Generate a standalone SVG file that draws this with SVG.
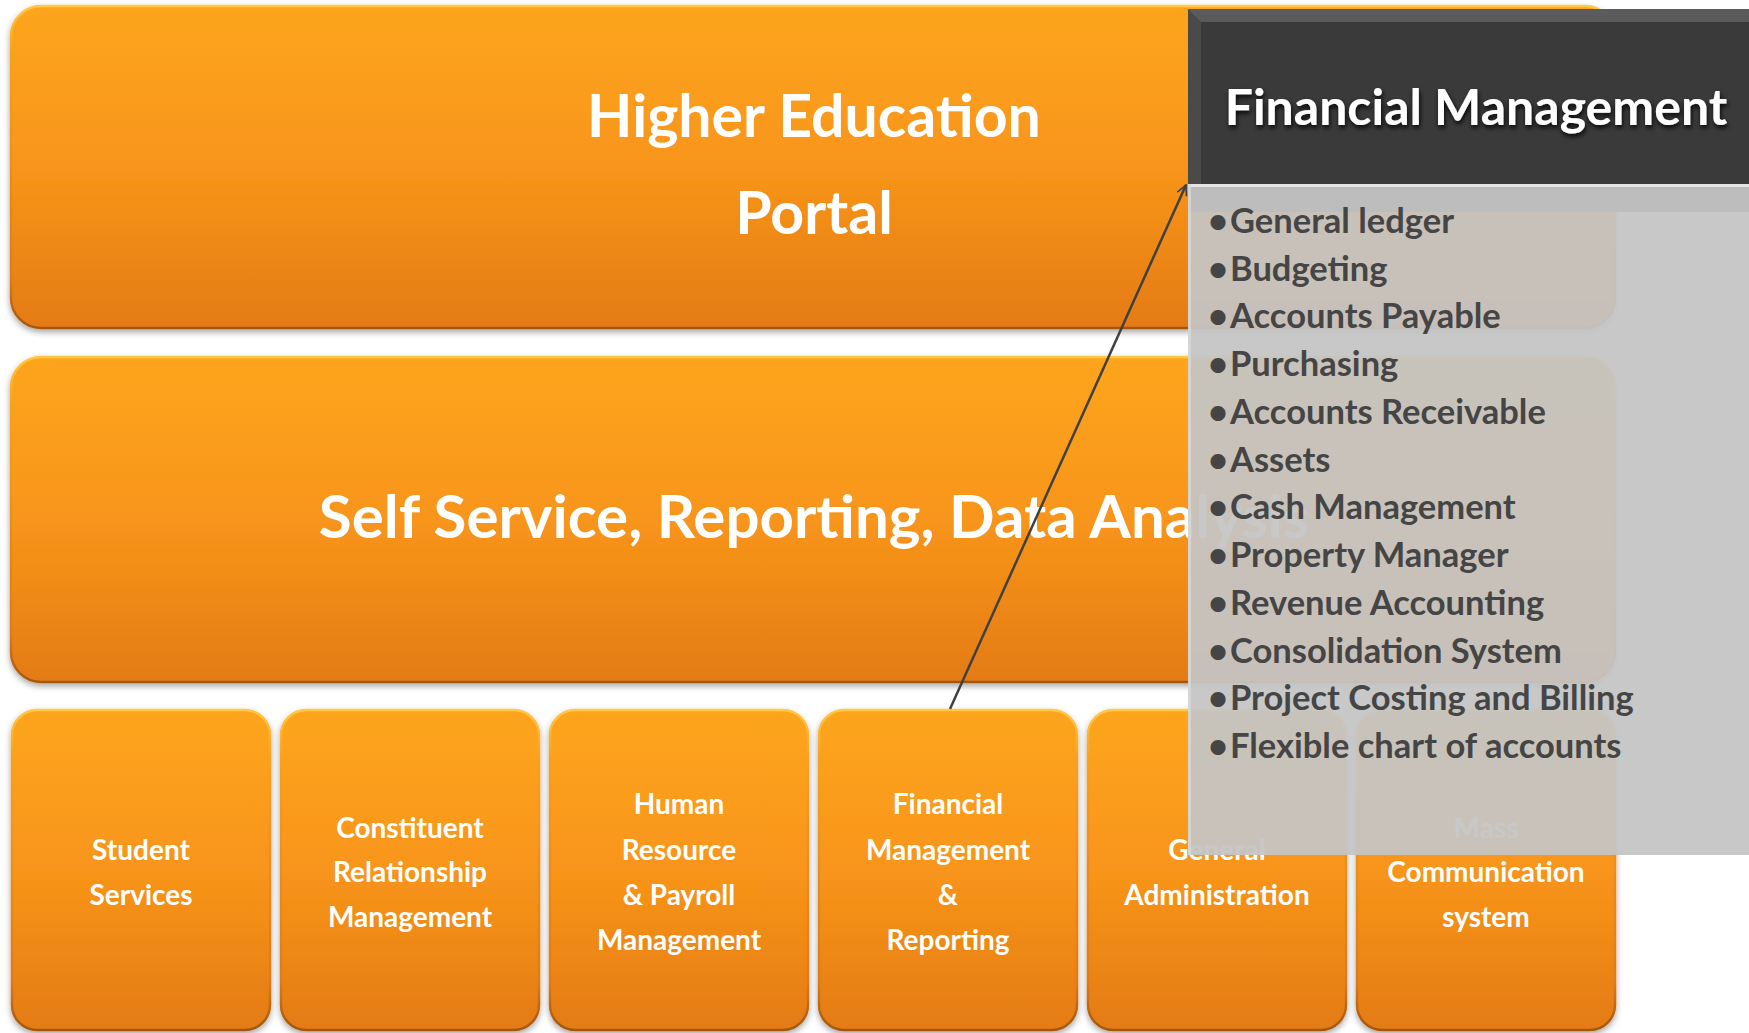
<svg xmlns="http://www.w3.org/2000/svg" width="1749" height="1033" viewBox="0 0 1749 1033">
<defs>
<linearGradient id="og" x1="0" y1="0" x2="0" y2="1">
<stop offset="0" stop-color="#fda51e"/>
<stop offset="0.5" stop-color="#f8951a"/>
<stop offset="1" stop-color="#e47b14"/>
</linearGradient>
<linearGradient id="os" x1="0" y1="0" x2="0" y2="1">
<stop offset="0" stop-color="#ffc845"/>
<stop offset="0.15" stop-color="#f9a020"/>
<stop offset="0.85" stop-color="#e07a14"/>
<stop offset="1" stop-color="#a4570e"/>
</linearGradient>
<linearGradient id="hb" x1="0" y1="0" x2="0" y2="1">
<stop offset="0" stop-color="#5c5c5c"/>
<stop offset="1" stop-color="#3c3c3c"/>
</linearGradient>
<filter id="sh" x="-5%" y="-5%" width="110%" height="115%">
<feDropShadow dx="0" dy="3" stdDeviation="3" flood-color="#000" flood-opacity="0.35"/>
</filter>
<filter id="glow" x="-5%" y="-30%" width="110%" height="160%">
<feDropShadow dx="1" dy="3" stdDeviation="2.5" flood-color="#000" flood-opacity="0.9"/>
</filter>
<marker id="arr" viewBox="0 0 12 12" refX="11" refY="6" markerWidth="12" markerHeight="12" markerUnits="userSpaceOnUse" orient="auto">
<path d="M1,1 L11,6 L1,11" fill="none" stroke="#404040" stroke-width="1.6"/>
</marker>
<style>
.box{fill:url(#og);stroke:url(#os);stroke-width:2.5;filter:url(#sh)}
.big{font-family:Lato,"Open Sans",sans-serif;font-weight:700;font-size:59px;fill:#fff;text-anchor:middle}
.sm{font-family:Lato,"Open Sans",sans-serif;font-weight:700;font-size:28px;fill:#fff;text-anchor:middle}
.li{font-family:Lato,"Open Sans",sans-serif;font-weight:700;font-size:34.5px;fill:#454545}
.ttl{font-family:Lato,"Open Sans",sans-serif;font-weight:700;font-size:50px;fill:#fff;text-anchor:middle;filter:url(#glow)}
.conn{stroke:#404040;stroke-width:2.5;fill:none}
</style>
</defs>
<rect width="1749" height="1033" fill="#fff"/>

<g id="portal">
<rect class="box" x="11" y="6" width="1604" height="322" rx="30"/>
<text class="big" x="814" y="137">Higher Education</text>
<text class="big" x="814" y="234">Portal</text>
</g>

<g id="selfservice">
<rect class="box" x="11" y="357" width="1604" height="325" rx="30"/>
<text class="big" x="814" y="538" style="font-size:60px">Self Service, Reporting, Data Analysis</text>
</g>

<g id="student">
<rect class="box" x="12" y="710" width="258" height="320" rx="25"/>
<text class="sm" x="141" y="860">Student</text>
<text class="sm" x="141" y="905">Services</text>
</g>

<g id="crm">
<rect class="box" x="281" y="710" width="258" height="320" rx="25"/>
<text class="sm" x="410" y="838">Constituent</text>
<text class="sm" x="410" y="882">Relationship</text>
<text class="sm" x="410" y="927">Management</text>
</g>

<g id="hr">
<rect class="box" x="550" y="710" width="258" height="320" rx="25"/>
<text class="sm" x="679" y="814">Human</text>
<text class="sm" x="679" y="860">Resource</text>
<text class="sm" x="679" y="905">&amp; Payroll</text>
<text class="sm" x="679" y="950">Management</text>
</g>

<g id="finance">
<rect class="box" x="819" y="710" width="258" height="320" rx="25"/>
<text class="sm" x="948" y="814">Financial</text>
<text class="sm" x="948" y="860">Management</text>
<text class="sm" x="948" y="905">&amp;</text>
<text class="sm" x="948" y="950">Reporting</text>
</g>

<g id="admin">
<rect class="box" x="1088" y="710" width="258" height="320" rx="25"/>
<text class="sm" x="1217" y="860">General</text>
<text class="sm" x="1217" y="905">Administration</text>
</g>

<g id="mass">
<rect class="box" x="1357" y="710" width="258" height="320" rx="25"/>
<text class="sm" x="1486" y="838">Mass</text>
<text class="sm" x="1486" y="882">Communication</text>
<text class="sm" x="1486" y="927">system</text>
</g>

<g id="connectors">
<line class="conn" x1="950" y1="709" x2="1186" y2="185" marker-end="url(#arr)"/>
</g>

<g id="fm-detail">
<rect x="1188" y="184" width="561" height="671" fill="#c5c5c5" fill-opacity="0.94"/>
<rect x="1188" y="184" width="561" height="28" fill="#bdbdbd"/>
<rect x="1188" y="184" width="561" height="3" fill="#e4e4e4"/>
<rect x="1188" y="184" width="3" height="671" fill="#d8d8d8" fill-opacity="0.8"/>
<rect x="1188" y="9" width="561" height="175" fill="#3a3a3a"/>
<polygon points="1188,9 1749,9 1749,22 1201,22 1201,184 1188,184" fill="url(#hb)"/>
<polygon points="1188,9 1201,22 1201,184 1188,184" fill="#4a4a4a"/>
<text class="ttl" x="1476" y="125">Financial Management</text>
<g class="li">
<text x="1208" y="233">•</text><text x="1230" y="233">General ledger</text>
<text x="1208" y="281">•</text><text x="1230" y="281">Budgeting</text>
<text x="1208" y="328">•</text><text x="1230" y="328">Accounts Payable</text>
<text x="1208" y="376">•</text><text x="1230" y="376">Purchasing</text>
<text x="1208" y="424">•</text><text x="1230" y="424">Accounts Receivable</text>
<text x="1208" y="472">•</text><text x="1230" y="472">Assets</text>
<text x="1208" y="519">•</text><text x="1230" y="519">Cash Management</text>
<text x="1208" y="567">•</text><text x="1230" y="567">Property Manager</text>
<text x="1208" y="615">•</text><text x="1230" y="615">Revenue Accounting</text>
<text x="1208" y="663">•</text><text x="1230" y="663">Consolidation System</text>
<text x="1208" y="710">•</text><text x="1230" y="710">Project Costing and Billing</text>
<text x="1208" y="758">•</text><text x="1230" y="758">Flexible chart of accounts</text>
</g>
</g>
</svg>
